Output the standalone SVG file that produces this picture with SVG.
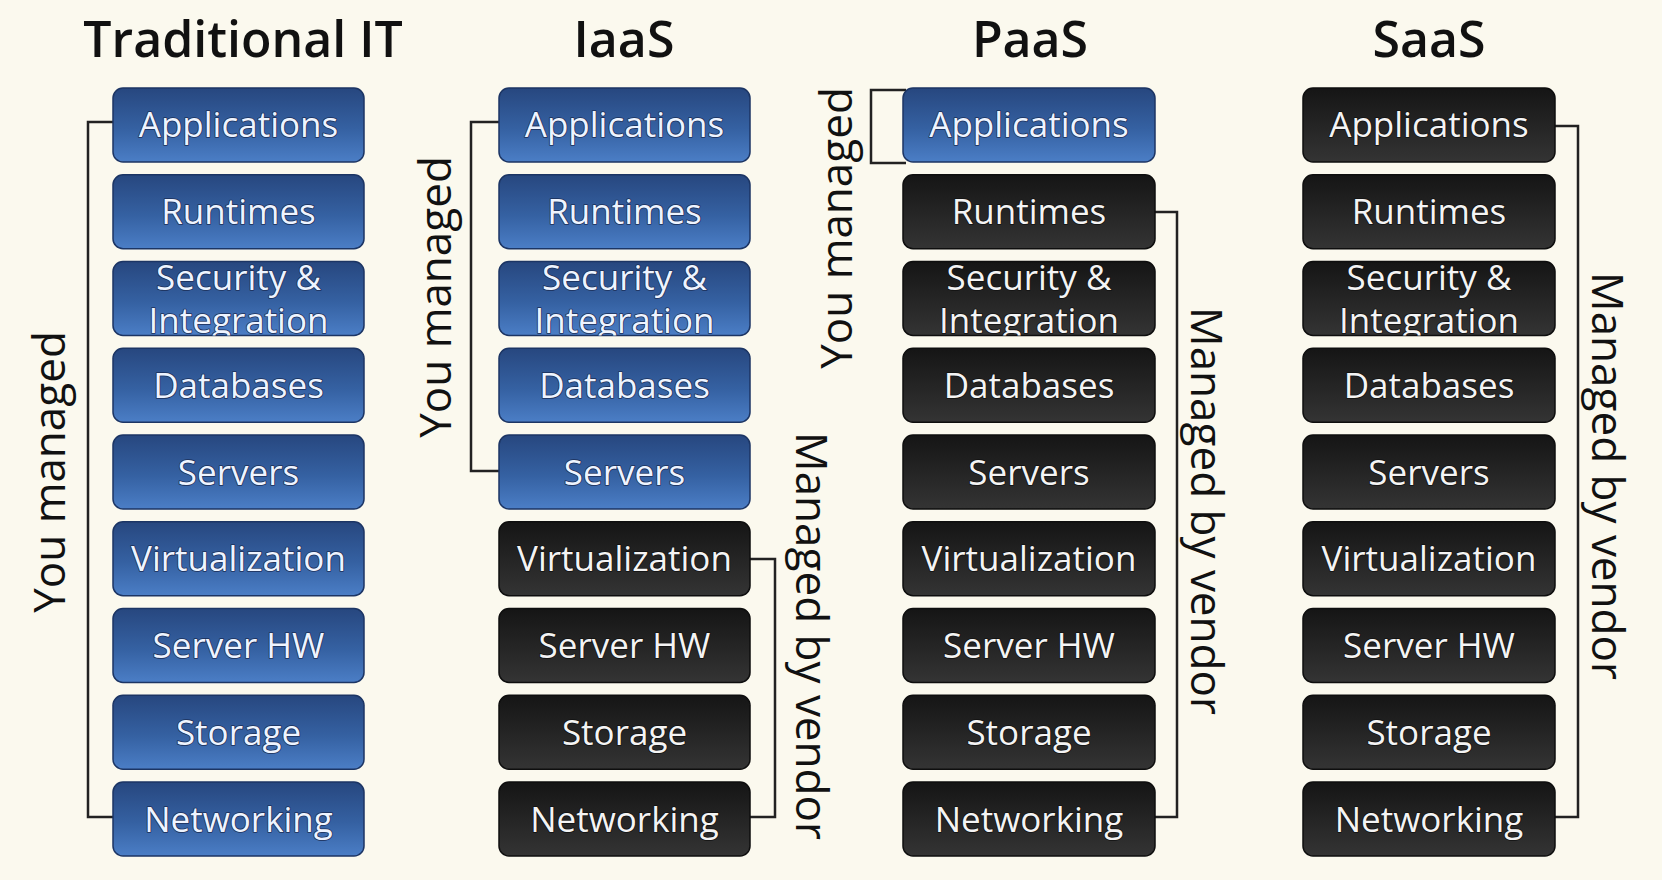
<svg xmlns="http://www.w3.org/2000/svg" width="1662" height="880" viewBox="0 0 1662 880">
<style>
.bg{fill:#fbf9ee}
.title{font-family:"Open Sans","Noto Sans","DejaVu Sans",sans-serif;font-size:50px;font-weight:600;fill:#111;text-anchor:middle}
.side{font-family:"Open Sans","Noto Sans","DejaVu Sans",sans-serif;font-size:44px;fill:#111;text-anchor:middle}
.lbl{font-family:"Open Sans","Noto Sans","DejaVu Sans",sans-serif;font-size:35px;text-anchor:middle;paint-order:stroke;stroke-width:1.6px;stroke-linejoin:round}
.blue rect{fill:url(#gBlue);stroke:#1c3564;stroke-width:1.5}
.blue text{fill:#eef4ff;stroke:#1b2f58}
.dark rect{fill:url(#gDark);stroke:#0e0e0e;stroke-width:1.5}
.dark text{fill:#f4f4f4;stroke:#111}
.br{fill:none;stroke:#222;stroke-width:2.5}
</style>
<defs>
<linearGradient id="gBlue" x1="0" y1="0" x2="0" y2="1">
<stop offset="0" stop-color="#27477f"/>
<stop offset="0.55" stop-color="#3561a2"/>
<stop offset="1" stop-color="#4b7ec6"/>
</linearGradient>
<linearGradient id="gDark" x1="0" y1="0" x2="0" y2="1">
<stop offset="0" stop-color="#151515"/>
<stop offset="1" stop-color="#343434"/>
</linearGradient>
<clipPath id="c1"><rect x="113" y="261.5" width="251" height="74" rx="10"/></clipPath>
<clipPath id="c2"><rect x="499" y="261.5" width="251" height="74" rx="10"/></clipPath>
<clipPath id="c3"><rect x="903" y="261.5" width="252" height="74" rx="10"/></clipPath>
<clipPath id="c4"><rect x="1303" y="261.5" width="252" height="74" rx="10"/></clipPath>
</defs>
<rect class="bg" x="0" y="0" width="1662" height="880"/>

<g id="titles">
<text class="title" x="243" y="57">Traditional IT</text>
<text class="title" x="624" y="57">IaaS</text>
<text class="title" x="1030" y="57">PaaS</text>
<text class="title" x="1429" y="57">SaaS</text>
</g>

<g id="connectors">
<path class="br" d="M113,122 H88 V817 H113"/>
<path class="br" d="M499,122 H471 V471 H499"/>
<path class="br" d="M750,559 H775 V817 H750"/>
<path class="br" d="M906,90 H871 V163 H906"/>
<path class="br" d="M1155,212 H1177 V817 H1155"/>
<path class="br" d="M1555,126 H1578 V817 H1555"/>
</g>

<g id="side-labels">
<text class="side" transform="translate(65,472) rotate(-90)">You managed</text>
<text class="side" transform="translate(451,297) rotate(-90)">You managed</text>
<text class="side" transform="translate(852,228) rotate(-90)">You managed</text>
<text class="side" transform="translate(796,636) rotate(90)">Managed by vendor</text>
<text class="side" transform="translate(1191,511) rotate(90)">Managed by vendor</text>
<text class="side" transform="translate(1592,476) rotate(90)">Managed by vendor</text>
</g>

<!-- Traditional IT -->
<g id="trad-applications" class="blue"><rect x="113" y="88" width="251" height="74" rx="10"/><text class="lbl" x="238.5" y="137">Applications</text></g>
<g id="trad-runtimes" class="blue"><rect x="113" y="174.75" width="251" height="74" rx="10"/><text class="lbl" x="238.5" y="224">Runtimes</text></g>
<g id="trad-security" class="blue"><rect x="113" y="261.5" width="251" height="74" rx="10"/><g clip-path="url(#c1)"><text class="lbl" x="238.5" y="290">Security &amp;</text><text class="lbl" x="238.5" y="333">Integration</text></g></g>
<g id="trad-databases" class="blue"><rect x="113" y="348.25" width="251" height="74" rx="10"/><text class="lbl" x="238.5" y="397.5">Databases</text></g>
<g id="trad-servers" class="blue"><rect x="113" y="435" width="251" height="74" rx="10"/><text class="lbl" x="238.5" y="484.5">Servers</text></g>
<g id="trad-virtualization" class="blue"><rect x="113" y="521.75" width="251" height="74" rx="10"/><text class="lbl" x="238.5" y="571">Virtualization</text></g>
<g id="trad-serverhw" class="blue"><rect x="113" y="608.5" width="251" height="74" rx="10"/><text class="lbl" x="238.5" y="658">Server HW</text></g>
<g id="trad-storage" class="blue"><rect x="113" y="695.25" width="251" height="74" rx="10"/><text class="lbl" x="238.5" y="744.5">Storage</text></g>
<g id="trad-networking" class="blue"><rect x="113" y="782" width="251" height="74" rx="10"/><text class="lbl" x="238.5" y="831.5">Networking</text></g>

<!-- IaaS -->
<g id="iaas-applications" class="blue"><rect x="499" y="88" width="251" height="74" rx="10"/><text class="lbl" x="624.5" y="137">Applications</text></g>
<g id="iaas-runtimes" class="blue"><rect x="499" y="174.75" width="251" height="74" rx="10"/><text class="lbl" x="624.5" y="224">Runtimes</text></g>
<g id="iaas-security" class="blue"><rect x="499" y="261.5" width="251" height="74" rx="10"/><g clip-path="url(#c2)"><text class="lbl" x="624.5" y="290">Security &amp;</text><text class="lbl" x="624.5" y="333">Integration</text></g></g>
<g id="iaas-databases" class="blue"><rect x="499" y="348.25" width="251" height="74" rx="10"/><text class="lbl" x="624.5" y="397.5">Databases</text></g>
<g id="iaas-servers" class="blue"><rect x="499" y="435" width="251" height="74" rx="10"/><text class="lbl" x="624.5" y="484.5">Servers</text></g>
<g id="iaas-virtualization" class="dark"><rect x="499" y="521.75" width="251" height="74" rx="10"/><text class="lbl" x="624.5" y="571">Virtualization</text></g>
<g id="iaas-serverhw" class="dark"><rect x="499" y="608.5" width="251" height="74" rx="10"/><text class="lbl" x="624.5" y="658">Server HW</text></g>
<g id="iaas-storage" class="dark"><rect x="499" y="695.25" width="251" height="74" rx="10"/><text class="lbl" x="624.5" y="744.5">Storage</text></g>
<g id="iaas-networking" class="dark"><rect x="499" y="782" width="251" height="74" rx="10"/><text class="lbl" x="624.5" y="831.5">Networking</text></g>

<!-- PaaS -->
<g id="paas-applications" class="blue"><rect x="903" y="88" width="252" height="74" rx="10"/><text class="lbl" x="1029" y="137">Applications</text></g>
<g id="paas-runtimes" class="dark"><rect x="903" y="174.75" width="252" height="74" rx="10"/><text class="lbl" x="1029" y="224">Runtimes</text></g>
<g id="paas-security" class="dark"><rect x="903" y="261.5" width="252" height="74" rx="10"/><g clip-path="url(#c3)"><text class="lbl" x="1029" y="290">Security &amp;</text><text class="lbl" x="1029" y="333">Integration</text></g></g>
<g id="paas-databases" class="dark"><rect x="903" y="348.25" width="252" height="74" rx="10"/><text class="lbl" x="1029" y="397.5">Databases</text></g>
<g id="paas-servers" class="dark"><rect x="903" y="435" width="252" height="74" rx="10"/><text class="lbl" x="1029" y="484.5">Servers</text></g>
<g id="paas-virtualization" class="dark"><rect x="903" y="521.75" width="252" height="74" rx="10"/><text class="lbl" x="1029" y="571">Virtualization</text></g>
<g id="paas-serverhw" class="dark"><rect x="903" y="608.5" width="252" height="74" rx="10"/><text class="lbl" x="1029" y="658">Server HW</text></g>
<g id="paas-storage" class="dark"><rect x="903" y="695.25" width="252" height="74" rx="10"/><text class="lbl" x="1029" y="744.5">Storage</text></g>
<g id="paas-networking" class="dark"><rect x="903" y="782" width="252" height="74" rx="10"/><text class="lbl" x="1029" y="831.5">Networking</text></g>

<!-- SaaS -->
<g id="saas-applications" class="dark"><rect x="1303" y="88" width="252" height="74" rx="10"/><text class="lbl" x="1429" y="137">Applications</text></g>
<g id="saas-runtimes" class="dark"><rect x="1303" y="174.75" width="252" height="74" rx="10"/><text class="lbl" x="1429" y="224">Runtimes</text></g>
<g id="saas-security" class="dark"><rect x="1303" y="261.5" width="252" height="74" rx="10"/><g clip-path="url(#c4)"><text class="lbl" x="1429" y="290">Security &amp;</text><text class="lbl" x="1429" y="333">Integration</text></g></g>
<g id="saas-databases" class="dark"><rect x="1303" y="348.25" width="252" height="74" rx="10"/><text class="lbl" x="1429" y="397.5">Databases</text></g>
<g id="saas-servers" class="dark"><rect x="1303" y="435" width="252" height="74" rx="10"/><text class="lbl" x="1429" y="484.5">Servers</text></g>
<g id="saas-virtualization" class="dark"><rect x="1303" y="521.75" width="252" height="74" rx="10"/><text class="lbl" x="1429" y="571">Virtualization</text></g>
<g id="saas-serverhw" class="dark"><rect x="1303" y="608.5" width="252" height="74" rx="10"/><text class="lbl" x="1429" y="658">Server HW</text></g>
<g id="saas-storage" class="dark"><rect x="1303" y="695.25" width="252" height="74" rx="10"/><text class="lbl" x="1429" y="744.5">Storage</text></g>
<g id="saas-networking" class="dark"><rect x="1303" y="782" width="252" height="74" rx="10"/><text class="lbl" x="1429" y="831.5">Networking</text></g>
</svg>
